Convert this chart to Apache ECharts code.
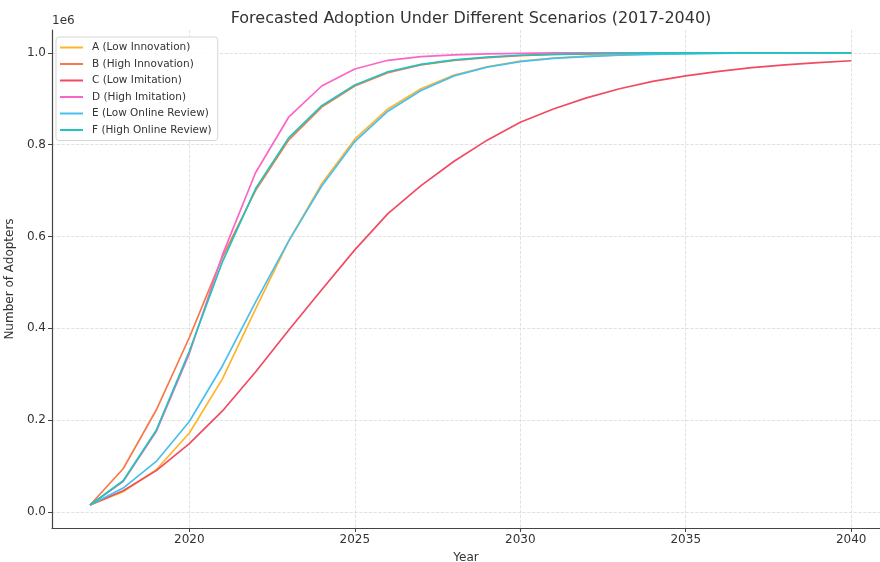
<!DOCTYPE html>
<html lang="en">
<head>
    <meta charset="UTF-8">
    <title>Forecasted Adoption Under Different Scenarios</title>
    <script src="https://cdn.jsdelivr.net/npm/echarts@6/dist/echarts.min.js"></script>
    <style>
        html, body { margin: 0; padding: 0; background: #fff; }
        #chart { width: 880px; height: 562px; }
    </style>
</head>
<body>
    <div id="chart"></div>
    <script>
        // years 2017..2040, values in units of 1e6 adopters
        var years = [2017, 2018, 2019, 2020, 2021, 2022, 2023, 2024, 2025, 2026, 2027, 2028,
                     2029, 2030, 2031, 2032, 2033, 2034, 2035, 2036, 2037, 2038, 2039, 2040];

        var lowInnovation = [0.015, 0.044, 0.092, 0.172, 0.290, 0.442, 0.590, 0.715, 0.812, 0.878, 0.922, 0.952,
                             0.970, 0.982, 0.989, 0.993, 0.996, 0.998, 0.999, 1.0, 1.0, 1.0, 1.0, 1.0];
        var highInnovation = [0.015, 0.094, 0.222, 0.380, 0.555, 0.700, 0.810, 0.882, 0.928, 0.957, 0.974, 0.984,
                              0.990, 0.994, 0.997, 0.998, 0.999, 1.0, 1.0, 1.0, 1.0, 1.0, 1.0, 1.0];
        var lowImitation = [0.015, 0.046, 0.090, 0.149, 0.220, 0.305, 0.396, 0.484, 0.571, 0.650, 0.711, 0.764,
                            0.810, 0.849, 0.878, 0.902, 0.922, 0.938, 0.950, 0.960, 0.968, 0.974, 0.979, 0.983];
        var highImitation = [0.015, 0.066, 0.175, 0.345, 0.560, 0.739, 0.860, 0.928, 0.965, 0.984, 0.992, 0.996,
                             0.998, 0.999, 1.0, 1.0, 1.0, 1.0, 1.0, 1.0, 1.0, 1.0, 1.0, 1.0];
        var lowReview = [0.015, 0.052, 0.110, 0.197, 0.318, 0.457, 0.590, 0.710, 0.807, 0.873, 0.918, 0.950,
                         0.969, 0.981, 0.988, 0.992, 0.995, 0.997, 0.998, 0.999, 1.0, 1.0, 1.0, 1.0];
        var highReview = [0.015, 0.068, 0.178, 0.350, 0.545, 0.704, 0.815, 0.885, 0.930, 0.959, 0.975, 0.985,
                          0.991, 0.995, 0.997, 0.998, 0.999, 1.0, 1.0, 1.0, 1.0, 1.0, 1.0, 1.0];

        var names = ['A (Low Innovation)', 'B (High Innovation)', 'C (Low Imitation)',
                     'D (High Imitation)', 'E (Low Online Review)', 'F (High Online Review)'];
        var colors = ['#ffb42a', '#f7794a', '#f04b62', '#fa66c8', '#48bff0', '#20c4bb'];
        var allData = [lowInnovation, highInnovation, lowImitation, highImitation, lowReview, highReview];

        var xTicks = [2020, 2025, 2030, 2035, 2040];
        var yTicks = [0, 0.2, 0.4, 0.6, 0.8, 1.0];

        var font = 'DejaVu Sans';
        var chart = echarts.init(document.getElementById('chart'));

        var series = allData.map(function (vals, i) {
            return {
                name: names[i],
                type: 'line',
                symbol: 'none',
                lineStyle: { width: 1.7, color: colors[i] },
                itemStyle: { color: colors[i] },
                z: 2 + i,
                data: vals.map(function (v, j) { return [years[j], v]; })
            };
        });

        chart.setOption({
            animation: false,
            textStyle: { fontFamily: font },
            title: {
                text: 'Forecasted Adoption Under Different Scenarios (2017-2040)',
                left: 466,
                top: 6,
                textAlign: 'center',
                textStyle: { fontFamily: font, fontSize: 16, fontWeight: 'normal', color: '#333' }
            },
            graphic: [{
                type: 'text',
                left: 52,
                top: 15,
                style: { text: '1e6', font: '12px "DejaVu Sans"', fill: '#333' }
            }],
            legend: {
                orient: 'vertical',
                left: 56,
                top: 37,
                data: names,
                icon: 'rect',
                itemWidth: 23,
                itemHeight: 2,
                itemGap: 5.5,
                padding: [5, 6, 5, 4],
                backgroundColor: 'rgba(255,255,255,0.9)',
                borderColor: '#d6d6d6',
                borderWidth: 1,
                borderRadius: 3,
                textStyle: { fontFamily: font, fontSize: 10.5, color: '#333', padding: [0, 0, 0, 4] }
            },
            grid: { left: 52, right: 0, top: 30, bottom: 34, outerBoundsMode: 'none', containLabel: false },
            xAxis: {
                type: 'value',
                min: 2015.85,
                max: 2040.87,
                name: 'Year',
                nameLocation: 'middle',
                nameGap: 24,
                nameTextStyle: { fontFamily: font, fontSize: 12, color: '#333' },
                axisLine: { show: true, onZero: false, lineStyle: { color: '#444', width: 1.2 } },
                axisTick: { show: true, length: 4, customValues: xTicks, lineStyle: { color: '#444' } },
                axisLabel: {
                    customValues: xTicks, fontFamily: font, fontSize: 12, color: '#333', margin: 6,
                    formatter: function (v) { return String(v); }
                },
                splitLine: { show: true, lineStyle: { color: '#d9d9d9', type: 'dashed', width: 0.8 } }
            },
            yAxis: {
                type: 'value',
                min: -0.035,
                max: 1.05,
                name: 'Number of Adopters',
                nameLocation: 'middle',
                nameGap: 27,
                nameTextStyle: { fontFamily: font, fontSize: 12, color: '#333' },
                axisLine: { show: true, onZero: false, lineStyle: { color: '#444', width: 1.2 } },
                axisTick: { show: true, length: 4, customValues: yTicks, lineStyle: { color: '#444' } },
                axisLabel: {
                    customValues: yTicks, fontFamily: font, fontSize: 12, color: '#333', margin: 6,
                    formatter: function (v) { return v.toFixed(1); }
                },
                splitLine: { show: true, lineStyle: { color: '#d9d9d9', type: 'dashed', width: 0.8 } }
            },
            series: series
        });
    </script>
</body>
</html>
